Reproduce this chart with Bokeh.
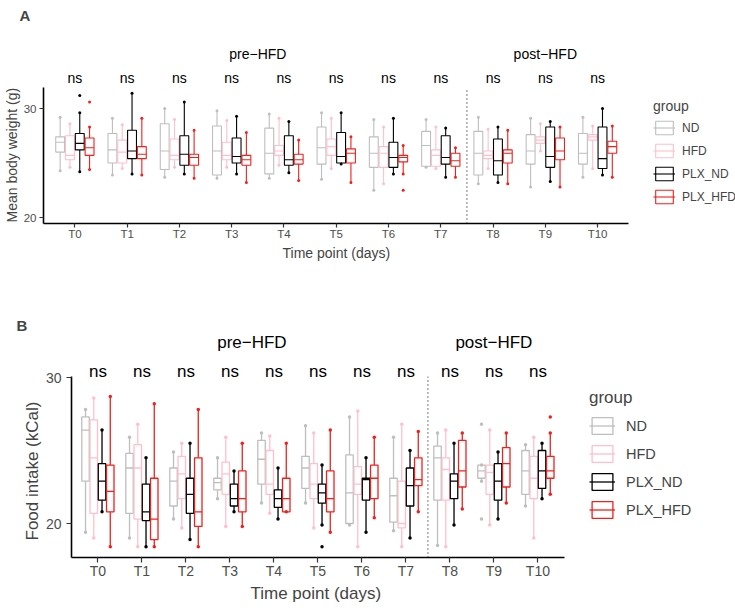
from bokeh.plotting import figure
from bokeh.models import FixedTicker, Legend, LegendItem, ColumnDataSource, Range1d, Title
from bokeh.embed import file_html
from bokeh.resources import INLINE
from bokeh.core.properties import value

FONT = "Liberation Sans"

# ---------------- data ----------------
time_points = ["T0", "T1", "T2", "T3", "T4", "T5", "T6", "T7", "T8", "T9", "T10"]
phase_of_time = ["pre", "pre", "pre", "pre", "pre", "pre", "pre", "pre", "post", "post", "post"]
phase_names = ["pre", "post"]
phase_labels = ["pre\u2212HFD", "post\u2212HFD"]
signif_labels = ["ns", "ns", "ns", "ns", "ns", "ns", "ns", "ns", "ns", "ns", "ns"]

groups = ["ND", "HFD", "PLX_ND", "PLX_HFD"]
group_colors = ["#BEBEBE", "#FFC0CB", "#000000", "#F0201C"]

# box statistics per time point: (lower whisker, q1, median, q3, upper whisker)
weight_ND = [(24.3, 26.0, 26.9, 27.4, 29.2), (23.9, 25.0, 26.2, 27.7, 29.1), (23.7, 24.4, 26.1, 28.6, 30.0),
             (23.6, 23.9, 26.1, 28.4, 29.8), (23.6, 24.0, 25.9, 28.2, 29.5), (23.5, 24.9, 26.4, 28.3, 29.6),
             (22.5, 24.6, 25.9, 27.4, 29.0), (24.6, 24.7, 26.6, 27.9, 29.0), (23.1, 23.9, 25.9, 27.9, 29.2),
             (22.8, 24.9, 26.1, 27.6, 29.1), (23.7, 24.9, 25.9, 27.7, 29.2)]
weight_HFD = [(24.6, 25.3, 25.7, 27.5, 28.6), (24.5, 25.0, 26.0, 27.1, 28.5), (24.6, 25.3, 25.7, 27.2, 29.0),
              (24.6, 25.3, 25.7, 26.9, 28.9), (24.8, 25.7, 26.1, 26.6, 29.1), (24.5, 25.7, 26.5, 27.2, 29.1),
              (23.1, 24.6, 25.9, 26.5, 28.3), (24.5, 24.7, 25.7, 26.2, 28.3), (24.5, 25.4, 25.7, 26.1, 28.1),
              (26.1, 26.8, 27.1, 27.4, 28.6), (24.5, 27.1, 27.4, 27.6, 28.4)]
weight_PLX_ND = [(24.2, 26.2, 26.8, 27.7, 29.6), (24.0, 25.4, 26.1, 28.0, 31.4), (24.0, 24.8, 25.8, 27.5, 30.6),
                 (24.0, 25.0, 25.6, 27.3, 29.3), (24.1, 24.8, 25.3, 27.5, 28.8), (24.9, 25.0, 25.6, 27.8, 29.6),
                 (24.0, 24.6, 25.5, 26.9, 29.1), (23.7, 24.9, 25.5, 27.5, 28.2), (23.2, 23.9, 25.2, 27.2, 28.3),
                 (23.3, 24.6, 25.6, 28.3, 28.8), (23.9, 24.5, 25.4, 28.3, 30.0)]
weight_PLX_HFD = [(24.4, 25.7, 26.4, 27.3, 28.3), (23.9, 25.4, 25.8, 26.5, 29.1), (23.6, 24.8, 25.5, 25.8, 28.0),
                  (23.2, 24.8, 25.3, 25.7, 27.8), (23.4, 24.9, 25.3, 25.8, 27.1), (23.2, 25.0, 25.9, 26.3, 27.4),
                  (24.0, 25.1, 25.5, 25.7, 26.6), (23.7, 24.7, 25.2, 25.9, 26.4), (23.1, 25.0, 25.9, 26.2, 28.0),
                  (22.8, 25.3, 26.1, 27.3, 28.3), (23.7, 25.9, 26.5, 27.0, 28.4)]
weight_extra_time = ["T0", "T0", "T6"]
weight_extra_group = ["PLX_ND", "PLX_HFD", "PLX_HFD"]
weight_extra_value = [31.2, 30.6, 22.5]

food_ND = [(19.4, 22.9, 26.4, 27.3, 27.8), (19.0, 20.7, 23.8, 24.8, 25.9), (20.3, 21.2, 22.9, 23.8, 24.9),
           (21.7, 22.3, 22.8, 23.1, 24.5), (21.4, 22.7, 24.4, 25.7, 26.2), (21.4, 22.4, 23.8, 24.6, 26.7),
           (19.9, 20.0, 22.1, 24.7, 27.3), (19.5, 20.1, 21.9, 23.1, 25.9), (18.5, 21.6, 24.5, 25.3, 26.2),
           (22.9, 23.1, 23.6, 24.0, 24.0), (21.2, 22.0, 23.6, 25.0, 25.4)]
food_HFD = [(19.0, 20.7, 24.5, 27.1, 28.6), (18.4, 20.3, 23.8, 25.4, 26.8), (19.7, 21.7, 23.4, 24.6, 25.5),
            (19.8, 22.0, 23.4, 24.2, 25.9), (20.7, 22.0, 22.7, 25.0, 26.0), (19.7, 21.7, 22.7, 24.1, 26.2),
            (18.4, 22.0, 22.7, 23.9, 27.7), (18.4, 19.7, 20.0, 22.9, 26.8), (18.4, 21.6, 23.7, 24.5, 26.4),
            (19.9, 22.0, 23.5, 24.0, 26.4), (19.0, 21.7, 23.1, 24.6, 25.9)]
food_PLX_ND = [(20.8, 21.6, 22.9, 24.1, 26.4), (18.4, 20.2, 20.8, 22.7, 24.5), (18.9, 20.7, 22.0, 23.1, 25.5),
               (20.8, 21.2, 21.7, 22.7, 23.6), (20.3, 21.1, 21.7, 22.3, 23.8), (19.9, 21.4, 22.1, 22.7, 24.0),
               (19.4, 21.6, 23.0, 23.1, 24.5), (19.0, 21.2, 22.6, 23.8, 25.0), (19.9, 21.7, 22.9, 23.4, 25.5),
               (20.3, 21.6, 22.9, 24.1, 24.9), (21.7, 22.4, 23.6, 25.0, 25.5)]
food_PLX_HFD = [(18.4, 20.8, 22.2, 24.0, 28.7), (18.4, 18.9, 20.3, 23.1, 28.2), (18.4, 19.8, 20.8, 24.5, 27.8),
                (19.8, 20.8, 21.7, 23.6, 25.5), (20.8, 20.8, 21.7, 23.1, 25.5), (19.4, 20.8, 21.7, 23.6, 26.4),
                (20.4, 21.7, 23.1, 24.0, 25.9), (20.8, 22.6, 23.0, 24.5, 26.3), (21.0, 22.5, 23.6, 25.7, 26.2),
                (21.4, 22.5, 24.1, 25.2, 26.2), (22.0, 23.1, 23.6, 24.6, 26.2)]
food_extra_time = ["T5", "T9", "T9", "T10"]
food_extra_group = ["PLX_ND", "ND", "ND", "PLX_HFD"]
food_extra_value = [18.4, 26.8, 20.3, 27.3]

# ---------------- helpers ----------------
DODGE = 0.75
BOX_W = 0.17
n_groups = len(groups)
group_offsets = [(-DODGE / 2 + DODGE / n_groups * (i + 0.5)) for i in range(n_groups)]
xpos = {t: i + 1 for i, t in enumerate(time_points)}


def build_panel(cfg, stats_by_group, extra_t, extra_g, extra_v, y_label):
    fl, ft, fb = cfg["frame_left"], cfg["frame_top"], cfg["frame_bottom"]
    ppx, y30, ppy = cfg["px_per_x"], cfg["y30_px"], cfg["px_per_y"]
    top0 = cfg["fig_top"]
    fw = cfg["width"] - fl

    def Y(py):
        return 30 + (y30 - py) / ppy

    p = figure(width=cfg["width"], height=cfg["height"], output_backend="svg", toolbar_location=None,
               title=None, x_range=Range1d(0.4, 0.4 + fw / ppx), y_range=Range1d(Y(fb), Y(ft)),
               min_border_left=fl, min_border_right=0, min_border_top=ft - top0,
               min_border_bottom=top0 + cfg["height"] - fb, background_fill_color="white",
               border_fill_color="white")
    p.outline_line_color = None
    p.xgrid.visible = False
    p.ygrid.visible = False

    fs, fs_small, lw, ms = cfg["font"], cfg["font_small"], cfg["line_w"], cfg["marker"]

    # axes
    p.xaxis.ticker = FixedTicker(ticks=[xpos[t] for t in time_points])
    p.xaxis.major_label_overrides = {xpos[t]: t for t in time_points}
    p.yaxis.ticker = FixedTicker(ticks=cfg["y_ticks"])
    p.xaxis.bounds = (0.4, len(time_points) + 0.6)
    p.yaxis.bounds = (Y(fb), cfg["y_axis_top"])
    for ax in (p.xaxis, p.yaxis):
        ax.axis_line_width = 1.6
        ax.axis_line_color = "black"
        ax.major_tick_line_color = "#333333"
        ax.major_tick_line_width = 1.2
        ax.major_tick_in = 0
        ax.major_tick_out = cfg["tick_len"]
        ax.minor_tick_line_color = None
        ax.major_label_text_font = FONT
        ax.major_label_text_font_size = fs_small
        ax.major_label_text_color = "#4D4D4D"
    p.xaxis.major_label_standoff = 0
    p.yaxis.major_label_standoff = cfg["ylab_standoff"]

    legend_items = []
    for gi, g in enumerate(groups):
        st = stats_by_group[g]
        col = group_colors[gi]
        xs = [i + 1 + group_offsets[gi] for i in range(len(time_points))]
        lo = [s[0] for s in st]
        q1 = [s[1] for s in st]
        med = [s[2] for s in st]
        q3 = [s[3] for s in st]
        hi = [s[4] for s in st]
        src = ColumnDataSource(dict(x=xs, left=[x - BOX_W / 2 for x in xs], right=[x + BOX_W / 2 for x in xs],
                                    lo=lo, q1=q1, med=med, q3=q3, hi=hi))
        p.segment(x0="x", y0="lo", x1="x", y1="q1", source=src, line_color=col, line_width=lw)
        p.segment(x0="x", y0="q3", x1="x", y1="hi", source=src, line_color=col, line_width=lw)
        box = p.quad(left="left", right="right", bottom="q1", top="q3", source=src,
                     fill_color="white", fill_alpha=0.0, line_color=col, line_width=lw)
        medr = p.segment(x0="left", y0="med", x1="right", y1="med", source=src, line_color=col, line_width=lw)
        p.scatter(x=xs + xs, y=lo + hi, size=ms, color=col, line_width=0)
        ex_x = [xpos[t] + group_offsets[gi] for t, gg in zip(extra_t, extra_g) if gg == g]
        ex_y = [v for v, gg in zip(extra_v, extra_g) if gg == g]
        if ex_x:
            p.scatter(x=ex_x, y=ex_y, size=ms, color=col, line_width=0)
        legend_items.append(LegendItem(label=g, renderers=[box, medr]))

    # phase divider
    last_pre = max(xpos[t] for t, ph in zip(time_points, phase_of_time) if ph == "pre")
    first_post = min(xpos[t] for t, ph in zip(time_points, phase_of_time) if ph == "post")
    xdiv = (last_pre + first_post) / 2
    p.segment(x0=[xdiv], y0=[Y(fb)], x1=[xdiv], y1=[cfg["y_axis_top"]], line_color="#333333",
              line_width=1.3, line_dash="1 3")

    p.text(x=[xpos[t] for t in time_points], y=[Y(cfg["ns_px"])] * len(time_points), text=signif_labels,
           text_font=value(FONT), text_font_size=fs, text_align="center", text_baseline="middle",
           text_color="black")
    centers = []
    for ph in phase_names:
        ps = [xpos[t] for t, q in zip(time_points, phase_of_time) if q == ph]
        centers.append(sum(ps) / len(ps) if ph == "pre" else ps[len(ps) // 2])
    p.text(x=centers, y=[Y(cfg["phase_px"])] * len(centers), text=phase_labels, text_font=value(FONT),
           text_font_size=fs, text_align="center", text_baseline="middle", text_color="black")

    # panel tag, axis titles
    p.add_layout(Title(text=cfg["tag"], align="left", offset=cfg["tag_left"] - fl, standoff=cfg["tag_standoff"],
                       text_font=FONT, text_font_size="15px", text_font_style="bold"), "above")
    p.add_layout(Title(text=y_label, align="left", offset=fb - cfg["ytitle_bottom"], standoff=cfg["ytitle_standoff"],
                       text_font=FONT, text_font_size=fs, text_font_style="normal"), "left")
    p.add_layout(Title(text="Time point (days)", align="left", offset=cfg["xtitle_left"] - fl,
                       standoff=0, text_font=FONT, text_font_size=fs,
                       text_font_style="normal"), "below")

    lg = Legend(items=legend_items, title="group", location=cfg["legend_loc"],
                title_text_font=FONT, title_text_font_size=fs, title_text_font_style="normal",
                label_text_font=FONT, label_text_font_size=cfg["legend_label"],
                glyph_width=cfg["glyph_w"], glyph_height=cfg["glyph_h"], label_height=cfg["glyph_h"],
                spacing=cfg["spacing"], label_standoff=cfg["label_standoff"], title_standoff=cfg["title_standoff"],
                padding=0, margin=0, border_line_color=None, background_fill_alpha=0)
    p.add_layout(lg)
    return p


cfg_A = dict(width=735, height=300, fig_top=0, frame_left=40, frame_top=26, frame_bottom=223,
             px_per_x=52.5, y30_px=108, px_per_y=10.9, y_ticks=[20, 30], y_axis_top=31.93,
             font="14px", font_small="11.5px", legend_label="12px", line_w=1.1, marker=3, tick_len=4,
             ylab_standoff=3, ns_px=77, phase_px=53, tag="A", tag_left=16, tag_standoff=6,
             ytitle_bottom=222, ytitle_standoff=2, xtitle_left=279,
             legend_loc=(610, 18), glyph_w=22, glyph_h=17, spacing=6, label_standoff=7, title_standoff=5)
cfg_B = dict(width=735, height=316, fig_top=300, frame_left=71, frame_top=335, frame_bottom=557,
             px_per_x=44.0, y30_px=377, px_per_y=14.6, y_ticks=[20, 30], y_axis_top=30.05,
             font="17px", font_small="14px", legend_label="14.5px", line_w=1.3, marker=3.5, tick_len=5,
             ylab_standoff=5, ns_px=371, phase_px=342, tag="B", tag_left=16, tag_standoff=4,
             ytitle_bottom=540, ytitle_standoff=2, xtitle_left=250,
             legend_loc=(518, 37), glyph_w=26, glyph_h=21, spacing=7, label_standoff=11, title_standoff=7)

pA = build_panel(cfg_A, {"ND": weight_ND, "HFD": weight_HFD, "PLX_ND": weight_PLX_ND, "PLX_HFD": weight_PLX_HFD},
                 weight_extra_time, weight_extra_group, weight_extra_value, "Mean body weight (g)")
pB = build_panel(cfg_B, {"ND": food_ND, "HFD": food_HFD, "PLX_ND": food_PLX_ND, "PLX_HFD": food_PLX_HFD},
                 food_extra_time, food_extra_group, food_extra_value, "Food intake (kCal)")

open("out.html", "w").write(file_html([pA, pB], INLINE))
